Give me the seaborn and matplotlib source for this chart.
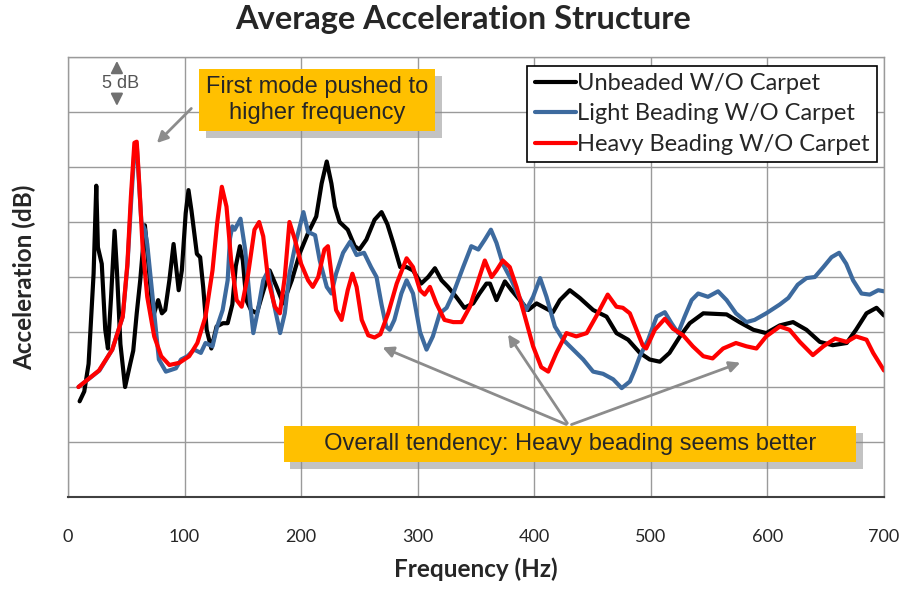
import matplotlib
matplotlib.use("Agg")
import matplotlib.pyplot as plt
import matplotlib.patheffects as pe
import pandas as pd
import seaborn as sns

series_names = ["Unbeaded W/O Carpet", "Light Beading W/O Carpet", "Heavy Beading W/O Carpet"]
series_colors = ["#000000", "#3D6A9E", "#FF0000"]

# values (Hz, dB relative to the bottom of the plot)
unbeaded_hz = [10, 14, 17.7, 22, 24.3, 25.7, 29, 32, 34.3, 37, 40, 42, 45, 49, 53.4, 56, 59, 62, 66, 69,
               73, 77.4, 80.6, 83.4, 87, 90.6, 95, 97.7, 101, 103.4, 106, 110.6, 113.4, 116, 119, 123,
               127.5, 133, 137, 141, 144, 147.5, 150, 153, 157, 162, 167, 173, 179, 184.6, 192, 199,
               206, 213, 217.6, 222, 226, 229, 233, 240, 246, 250, 256, 263, 269, 274, 279, 285, 290.5,
               296, 303, 309, 314.8, 320.5, 326, 333, 340, 347.6, 353, 359, 362, 367.6, 374.8, 380.5,
               387.6, 394.8, 402, 409, 416, 422, 430.5, 439, 450.5, 462, 470.5, 480.5, 490.6, 499,
               507.7, 516, 525, 533.4, 545, 565, 576, 588, 599, 610.6, 622, 633.5, 645, 656, 668, 676,
               685, 693.6, 700]
unbeaded_db = [8.7, 9.6, 12.1, 20.3, 28.3, 22.7, 21.2, 15.2, 13.5, 18.2, 24.2, 20.6, 13.9, 10.0, 12.1,
               13.3, 16.7, 19.7, 24.7, 21.2, 16.4, 17.9, 16.7, 17.0, 19.7, 23.0, 18.8, 20.6, 25.8, 27.9,
               26.0, 22.1, 21.8, 19.1, 15.2, 13.5, 15.5, 15.8, 15.8, 17.5, 21.0, 22.8, 21.5, 17.9, 17.0,
               16.7, 18.5, 20.6, 19.1, 17.6, 19.7, 22.2, 24.0, 25.5, 28.5, 30.5, 28.5, 26.4, 25.0, 24.3,
               22.8, 22.5, 23.4, 25.2, 25.9, 24.8, 23.1, 20.9, 20.9, 20.6, 19.4, 20.0, 20.8, 19.7, 19.1,
               18.2, 17.2, 17.6, 18.5, 19.4, 19.4, 17.9, 19.6, 18.8, 17.9, 17.0, 17.6, 17.2, 16.8, 17.9,
               18.8, 18.1, 17.0, 16.4, 14.9, 14.3, 13.1, 12.5, 12.3, 13.1, 14.6, 15.8, 16.7, 16.6, 15.9,
               15.2, 14.9, 15.6, 15.9, 15.2, 14.1, 13.8, 14.0, 15.2, 16.7, 17.2, 16.5]

light_hz = [9, 27, 38, 47, 51, 54, 57, 59, 61, 63, 66, 68, 72.6, 78, 84, 92.6, 97, 102.6, 108.3, 114,
            118, 124, 128, 132.7, 137, 139, 141, 143, 148, 152, 156, 159, 163, 167.5, 172, 176, 182,
            186, 190, 196, 202, 206, 212, 216, 222, 226, 230, 236, 242, 247.6, 254, 260, 264.7, 269,
            273, 276, 280, 286, 290.5, 296, 302, 307.6, 313, 319, 324.8, 330.5, 339, 346, 352, 357.6,
            362.8, 367.6, 373, 380.5, 386, 393, 399, 405, 410.5, 417.7, 424.8, 433.4, 442, 450.5, 459,
            467.7, 475, 482, 486, 490.6, 497.7, 505, 512, 517.7, 523.4, 529, 535, 540.6, 549, 557.7,
            565, 573, 582, 589, 599, 610.6, 618, 626, 633.5, 640.7, 648, 655, 661.5, 667.6, 673.5,
            680.7, 687.8, 695, 700]
light_db = [10.0, 11.5, 13.4, 16.4, 21.0, 26.5, 31.5, 32.0, 28.5, 25.0, 24.3, 23.0, 18.2, 12.5, 11.4,
            11.7, 12.5, 12.8, 13.4, 13.1, 14.0, 13.7, 15.5, 17.0, 19.7, 23.5, 24.6, 24.3, 25.3, 22.5,
            17.9, 14.9, 17.0, 19.7, 20.6, 17.9, 14.9, 16.7, 20.3, 23.4, 25.9, 24.1, 23.8, 21.5, 19.1,
            18.5, 20.3, 22.2, 23.2, 22.0, 22.2, 20.9, 20.0, 17.5, 15.5, 15.2, 16.1, 18.5, 19.7, 18.5,
            15.0, 13.4, 14.6, 16.7, 17.2, 18.5, 20.9, 22.8, 22.5, 23.4, 24.3, 23.1, 21.2, 19.7, 18.4,
            17.0, 18.2, 19.9, 18.2, 15.5, 14.3, 13.4, 12.5, 11.4, 11.2, 10.7, 9.9, 10.5, 11.5, 12.8,
            14.3, 16.4, 16.8, 15.8, 14.9, 16.4, 17.9, 18.5, 18.2, 18.7, 17.9, 16.7, 15.9, 16.1, 16.7,
            17.5, 18.1, 19.3, 19.9, 20.0, 20.9, 21.8, 22.2, 21.2, 19.7, 18.5, 18.4, 18.8, 18.7]

heavy_hz = [9, 26.6, 38, 47, 51, 54, 57, 59, 61, 64, 68, 74, 80, 87, 95.5, 104, 111, 118, 124, 128,
            132, 136, 140, 144.7, 149, 154.6, 160, 164, 167.5, 171.8, 177.5, 181.8, 186, 190, 194.7,
            200, 206, 210, 214.7, 220, 223, 226, 230, 234.7, 240, 244, 247.6, 252, 257.6, 263, 268,
            274.7, 282, 290.5, 296, 302, 306, 310.5, 316, 323, 330.5, 337.6, 344.8, 352, 357.6, 363.4,
            367.6, 373, 379, 384.8, 392, 399, 406, 412, 419, 427.6, 436, 445, 453, 463, 470.5, 476,
            482, 487.7, 493, 496, 503.4, 512, 519, 527.7, 536, 545, 553, 562, 573, 582, 590.6, 599,
            610.6, 619, 627.8, 639, 648, 658, 668, 676, 685, 690.7, 700]
heavy_db = [10.0, 11.5, 13.4, 16.4, 21.2, 27.3, 32.2, 32.3, 28.8, 22.8, 18.2, 14.6, 12.8, 12.0, 12.2,
            12.8, 14.0, 16.4, 20.6, 24.9, 28.2, 26.4, 21.5, 17.9, 17.3, 20.3, 24.3, 25.0, 23.7, 19.7,
            17.3, 16.7, 20.0, 25.0, 23.4, 21.2, 19.7, 19.1, 20.0, 22.5, 22.8, 20.3, 17.0, 16.1, 18.8,
            20.3, 19.1, 16.1, 14.7, 14.5, 14.8, 16.7, 19.4, 21.7, 20.9, 18.8, 18.4, 19.1, 17.6, 16.1,
            15.9, 15.9, 17.3, 19.7, 21.5, 20.0, 20.6, 21.5, 20.9, 19.1, 16.4, 13.7, 11.8, 11.4, 13.1,
            14.9, 14.6, 14.9, 16.4, 18.4, 17.3, 17.2, 16.7, 15.2, 13.8, 13.5, 15.2, 16.2, 15.3, 14.7,
            13.7, 12.8, 12.6, 13.5, 14.0, 13.7, 13.5, 14.6, 15.5, 15.2, 14.1, 12.9, 13.7, 14.4, 14.1,
            14.6, 14.3, 13.1, 11.5]


def main():
    frames = []
    for name, hz, db in zip(series_names,
                            [unbeaded_hz, light_hz, heavy_hz],
                            [unbeaded_db, light_db, heavy_db]):
        frames.append(pd.DataFrame({"freq": hz, "acc": db, "series": name}))
    df = pd.concat(frames, ignore_index=True)

    sns.set_style("white")
    plt.rcParams["font.family"] = ["Lato", "DejaVu Sans"]

    fig = plt.figure(figsize=(9.06, 5.90), dpi=100)
    ax = fig.add_axes([0.075, 0.1576, 0.9007, 0.7458])

    sns.lineplot(
        data=df, x="freq", y="acc", hue="series",
        palette=dict(zip(series_names, series_colors)),
        hue_order=series_names, sort=False, linewidth=3.0,
        solid_joinstyle="round", solid_capstyle="round",
        ax=ax,
    )

    ax.set_xlim(0, 700)
    ax.set_ylim(0, 40)
    ax.set_xticks(range(0, 701, 100))
    ax.set_yticks(range(0, 41, 5))
    ax.set_yticklabels([])
    ax.grid(True, color="#9A9A9A", linewidth=1.0)
    ax.set_axisbelow(True)
    ax.tick_params(axis="x", direction="out", length=4, width=1.2, color="#404040",
                   labelsize=13, pad=19)
    ax.tick_params(axis="y", direction="out", length=4.5, width=1.0, color="#9A9A9A")
    for side in ["left", "top", "right"]:
        ax.spines[side].set_color("#9A9A9A")
        ax.spines[side].set_linewidth(1.0)
    ax.spines["bottom"].set_color("#404040")
    ax.spines["bottom"].set_linewidth(1.5)

    ax.set_xlabel("Frequency (Hz)", fontsize=17.5, fontweight="bold", labelpad=9)
    ax.set_ylabel("Acceleration (dB)", fontsize=17.5, fontweight="bold", labelpad=15)
    fig.suptitle("Average Acceleration Structure", x=0.511, fontsize=23.5, fontweight="bold",
                 y=0.992)

    leg = ax.legend(loc="upper right", bbox_to_anchor=(0.991, 0.98), fontsize=17,
                    frameon=True, fancybox=False, edgecolor="black", framealpha=1,
                    handlelength=1.75, handletextpad=0.05, borderpad=0.3, labelspacing=0.4,
                    borderaxespad=0.0)
    leg.get_frame().set_linewidth(1.2)
    for line in leg.get_lines():
        line.set_linewidth(3.0)

    # 5 dB scale marker
    arrow_gray = "#707070"
    ax.annotate("", xy=(42, 39.9), xytext=(42, 38.6),
                arrowprops=dict(arrowstyle="-|>", color=arrow_gray, lw=1.5, mutation_scale=18))
    ax.annotate("", xy=(42, 35.3), xytext=(42, 36.6),
                arrowprops=dict(arrowstyle="-|>", color=arrow_gray, lw=1.5, mutation_scale=18))
    ax.text(45, 37.6, "5 dB", ha="center", va="center", fontsize=13, color="#555555",
            family=["Liberation Sans", "DejaVu Sans"])

    box_style = dict(boxstyle="square,pad=0.3", facecolor="#FFC000", edgecolor="none")
    shadow = [pe.SimplePatchShadow(offset=(5, -5), shadow_rgbFace="#888888", alpha=0.5), pe.Normal()]

    # first mode callout
    ax.annotate("", xy=(74.6, 32.0), xytext=(107.5, 35.5),
                arrowprops=dict(arrowstyle="-|>", color="#8C8C8C", lw=2.0, mutation_scale=16))
    t1 = ax.text(213.5, 36.1, "First mode pushed to\nhigher frequency", ha="center", va="center",
                 fontsize=17, linespacing=1.25, family=["Liberation Sans", "DejaVu Sans"],
                 bbox=box_style)
    t1.get_bbox_patch().set_path_effects(shadow)

    # overall tendency callout
    for tip in [(267.6, 13.7), (376.2, 15.0), (579.0, 12.3)]:
        ax.annotate("", xy=tip, xytext=(429.7, 6.5),
                    arrowprops=dict(arrowstyle="-|>", color="#8C8C8C", lw=2.0, mutation_scale=16))
    t2 = ax.text(430.5, 4.8, "     Overall tendency: Heavy beading seems better     ",
                 ha="center", va="center", fontsize=17,
                 family=["Liberation Sans", "DejaVu Sans"], bbox=box_style)
    t2.get_bbox_patch().set_path_effects(shadow)

    fig.savefig("out.png", dpi=100)
    plt.close(fig)


if __name__ == "__main__":
    main()
